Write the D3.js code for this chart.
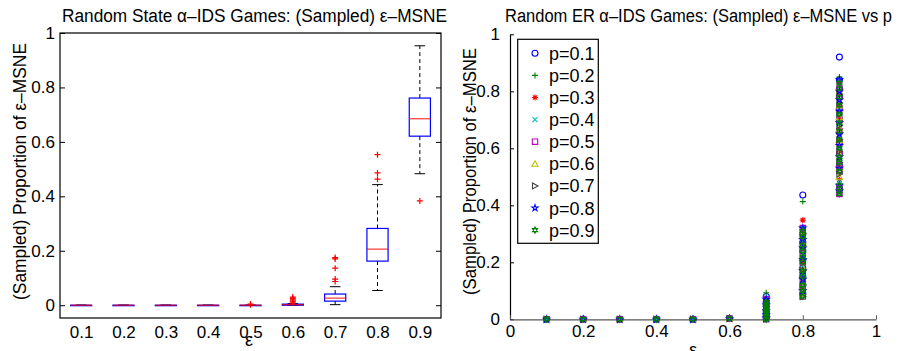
<!DOCTYPE html>
<html>
<head>
<meta charset="utf-8">
<script src="https://cdn.jsdelivr.net/npm/d3@7"></script>
<style>
  body { margin: 0; background: #fff; }
  svg { font-family: "Liberation Sans", Arial, sans-serif; }
</style>
</head>
<body>
<div id="chart"></div>
<script>
// ---- left panel: boxplot stats per epsilon ----
const epsLabels = ["0.1", "0.2", "0.3", "0.4", "0.5", "0.6", "0.7", "0.8", "0.9"];
const boxQ1     = [0, 0, 0, 0, 0, 0.000, 0.015, 0.162, 0.621];
const boxMedian = [0, 0, 0, 0, 0, 0.002, 0.026, 0.206, 0.685];
const boxQ3     = [0, 0, 0, 0, 0, 0.004, 0.041, 0.282, 0.761];
const whiskLo   = [0, 0, 0, 0, 0, 0.000, 0.002, 0.054, 0.483];
const whiskHi   = [0, 0, 0, 0, 0, 0.006, 0.068, 0.443, 0.953];
const outliers  = [
    [], [], [], [],
    [0.002, 0.004],
    [0.008, 0.012, 0.016, 0.020, 0.025, 0.030],
    [0.087, 0.096, 0.136, 0.170, 0.175],
    [0.463, 0.486, 0.553],
    [0.383]
];
const yTicksL = [0, 0.2, 0.4, 0.6, 0.8, 1];

// ---- right panel: sampled values per p ----
const pLabels = ["p=0.1", "p=0.2", "p=0.3", "p=0.4", "p=0.5", "p=0.6", "p=0.7", "p=0.8", "p=0.9"];
const pColors = ["#0000ff", "#008000", "#ff0000", "#00bfbf", "#bf00bf", "#bfbf00", "#404040", "#0000ff", "#008000"];
const pMarkers = ["o", "+", "*", "x", "s", "^", ">", "p", "h"];
const epsLow = [0.1, 0.2, 0.3, 0.4, 0.5, 0.6];
const lowVals = [0, 0, 0, 0, 0, 0.003];
const vals07 = [
    [0.080, 0.060, 0.045, 0.030, 0.020, 0.010, 0.004],
    [0.093, 0.065, 0.040, 0.025, 0.012, 0.003],
    [0.070, 0.050, 0.035, 0.020, 0.008],
    [0.075, 0.050, 0.030, 0.015, 0.005],
    [0.070, 0.055, 0.040, 0.025, 0.010, 0.000],
    [0.060, 0.040, 0.020, 0.005],
    [0.065, 0.045, 0.028, 0.012, 0.002],
    [0.070, 0.050, 0.030, 0.015, 0.004],
    [0.060, 0.050, 0.040, 0.030, 0.020, 0.010, 0.000]
];
const vals08 = [
    [0.436, 0.300, 0.270, 0.240, 0.210, 0.180, 0.150, 0.120, 0.090],
    [0.413, 0.310, 0.260, 0.220, 0.190, 0.160, 0.130, 0.100],
    [0.348, 0.300, 0.250, 0.200, 0.170, 0.140, 0.110],
    [0.320, 0.280, 0.230, 0.190, 0.150, 0.120, 0.090],
    [0.320, 0.290, 0.260, 0.230, 0.200, 0.170, 0.140, 0.110, 0.080],
    [0.310, 0.270, 0.220, 0.180, 0.130, 0.090],
    [0.300, 0.260, 0.210, 0.170, 0.120, 0.080],
    [0.320, 0.280, 0.250, 0.210, 0.170, 0.140, 0.100],
    [0.310, 0.290, 0.260, 0.240, 0.220, 0.200, 0.170, 0.150, 0.120, 0.100, 0.080]
];
const vals09 = [
    [0.920, 0.840, 0.810, 0.780, 0.740, 0.700, 0.660, 0.620, 0.580, 0.540, 0.520, 0.460],
    [0.850, 0.800, 0.760, 0.720, 0.690, 0.650, 0.600, 0.560, 0.530, 0.470],
    [0.830, 0.790, 0.750, 0.710, 0.670, 0.630, 0.590, 0.535, 0.490],
    [0.820, 0.770, 0.730, 0.680, 0.640, 0.600, 0.550, 0.486],
    [0.810, 0.780, 0.740, 0.700, 0.660, 0.620, 0.580, 0.540, 0.520, 0.460, 0.440],
    [0.800, 0.750, 0.710, 0.670, 0.630, 0.580, 0.530, 0.500],
    [0.790, 0.760, 0.720, 0.680, 0.630, 0.590, 0.550, 0.510],
    [0.840, 0.800, 0.770, 0.730, 0.690, 0.650, 0.610, 0.570, 0.530, 0.470, 0.450],
    [0.830, 0.810, 0.780, 0.750, 0.720, 0.690, 0.660, 0.630, 0.600, 0.570, 0.550, 0.520, 0.470, 0.450, 0.440]
];
const xTicksR = [0, 0.2, 0.4, 0.6, 0.8, 1];
const yTicksR = [0, 0.2, 0.4, 0.6, 0.8, 1];

const W = 899, H = 351;
const FS = 18, TFS = 17;
const svg = d3.select("#chart").append("svg")
    .attr("width", W)
    .attr("height", H);

// marker paths, MATLAB style
function markerPath(m)
{
    switch (m) {
        case "o": return d3.symbol(d3.symbolCircle).size(28)();
        case "+": return "M-3,0H3M0,-3V3";
        case "*": return "M-3,0H3M0,-3V3M-2.2,-2.2L2.2,2.2M-2.2,2.2L2.2,-2.2";
        case "x": return "M-2.5,-2.5L2.5,2.5M-2.5,2.5L2.5,-2.5";
        case "s": return "M-2.7,-2.7H2.7V2.7H-2.7Z";
        case "^": return "M0,-3L3,2.5H-3Z";
        case ">": return "M3,0L-2.5,-3V3Z";
        case "p": return d3.symbol(d3.symbolStar).size(12)();
        case "h": return "M0,-3L2.6,1.5H-2.6ZM0,3L2.6,-1.5H-2.6Z";
    }
}

// ================= LEFT PANEL =================
const L = {left: 60, right: 441, top: 33, bottom: 318};
const xL = d3.scaleLinear().domain([0.5, 9.5]).range([L.left, L.right]);
const yL = d3.scaleLinear().domain([-0.047, 1]).range([L.bottom, L.top]);
const bw = (xL(1) - xL(0)) * 0.5;

const gL = svg.append("g");

gL.append("rect")
    .attr("x", L.left).attr("y", L.top)
    .attr("width", L.right - L.left).attr("height", L.bottom - L.top)
    .attr("fill", "none").attr("stroke", "#000").attr("stroke-width", 1.2);

gL.append("g")
    .attr("transform", `translate(${L.left},0)`)
    .call(d3.axisLeft(yL).tickValues(yTicksL).tickSizeInner(-5).tickSizeOuter(0).tickPadding(5)
        .tickFormat(d3.format("~g")))
    .call(g => g.select(".domain").remove())
    .call(g => g.selectAll("text").attr("font-size", TFS).attr("fill", "#000"));

gL.append("g")
    .attr("transform", `translate(${L.right},0)`)
    .call(d3.axisRight(yL).tickValues(yTicksL).tickSizeInner(-5).tickSizeOuter(0).tickFormat(""))
    .call(g => g.select(".domain").remove());

gL.append("g")
    .attr("transform", `translate(0,${L.bottom})`)
    .call(d3.axisBottom(xL).tickValues(d3.range(1, 10)).tickSize(0).tickPadding(8)
        .tickFormat((d, i) => epsLabels[i]))
    .call(g => g.select(".domain").remove())
    .call(g => g.selectAll("text").attr("font-size", TFS).attr("fill", "#000"));

const boxes = gL.selectAll(".box")
    .data(epsLabels)
    .join("g")
    .attr("class", "box");

// whiskers (dashed)
boxes.append("line")
    .attr("x1", (d, i) => xL(i + 1)).attr("x2", (d, i) => xL(i + 1))
    .attr("y1", (d, i) => yL(boxQ3[i])).attr("y2", (d, i) => yL(whiskHi[i]))
    .attr("stroke", "#000").attr("stroke-dasharray", "4,3");
boxes.append("line")
    .attr("x1", (d, i) => xL(i + 1)).attr("x2", (d, i) => xL(i + 1))
    .attr("y1", (d, i) => yL(boxQ1[i])).attr("y2", (d, i) => yL(whiskLo[i]))
    .attr("stroke", "#000").attr("stroke-dasharray", "4,3");
// caps
boxes.append("line")
    .attr("x1", (d, i) => xL(i + 1) - bw / 4).attr("x2", (d, i) => xL(i + 1) + bw / 4)
    .attr("y1", (d, i) => yL(whiskHi[i])).attr("y2", (d, i) => yL(whiskHi[i]))
    .attr("stroke", "#000");
boxes.append("line")
    .attr("x1", (d, i) => xL(i + 1) - bw / 4).attr("x2", (d, i) => xL(i + 1) + bw / 4)
    .attr("y1", (d, i) => yL(whiskLo[i])).attr("y2", (d, i) => yL(whiskLo[i]))
    .attr("stroke", "#000");
// box
boxes.append("rect")
    .attr("x", (d, i) => xL(i + 1) - bw / 2)
    .attr("y", (d, i) => yL(boxQ3[i]))
    .attr("width", bw)
    .attr("height", (d, i) => Math.max(0.5, yL(boxQ1[i]) - yL(boxQ3[i])))
    .attr("fill", "none").attr("stroke", "#0000ff").attr("stroke-width", 1.2);
// median
boxes.append("line")
    .attr("x1", (d, i) => xL(i + 1) - bw / 2).attr("x2", (d, i) => xL(i + 1) + bw / 2)
    .attr("y1", (d, i) => yL(boxMedian[i])).attr("y2", (d, i) => yL(boxMedian[i]))
    .attr("stroke", "#ff0000").attr("stroke-width", 1.2).attr("opacity", 0.8);
// outliers
boxes.each(function(d, i) {
    d3.select(this).selectAll(".out")
        .data(outliers[i])
        .join("path")
        .attr("class", "out")
        .attr("transform", v => `translate(${xL(i + 1)},${yL(v)})`)
        .attr("d", markerPath("+"))
        .attr("stroke", "#ff0000").attr("fill", "none").attr("stroke-width", 1.2);
});

gL.append("text")
    .attr("x", 62).attr("y", 22)
    .attr("font-size", FS)
    .attr("textLength", 385).attr("lengthAdjust", "spacingAndGlyphs")
    .text("Random State α–IDS Games: (Sampled) ε–MSNE");

gL.append("text")
    .attr("x", 249).attr("y", 346)
    .attr("text-anchor", "middle").attr("font-size", FS)
    .text("ε");

gL.append("text")
    .attr("transform", `translate(26,300) rotate(-90)`)
    .attr("font-size", FS)
    .attr("textLength", 257).attr("lengthAdjust", "spacingAndGlyphs")
    .text("(Sampled) Proportion of ε–MSNE");

// ================= RIGHT PANEL =================
const R = {left: 510, right: 876, top: 34.3, bottom: 319.3};
const xR = d3.scaleLinear().domain([0, 1]).range([R.left, R.right]);
const yR = d3.scaleLinear().domain([0, 1]).range([R.bottom, R.top]);

const gR = svg.append("g");

gR.append("g")
    .attr("transform", `translate(${R.left},0)`)
    .call(d3.axisLeft(yR).tickValues(yTicksR).tickSizeInner(-4).tickSizeOuter(0).tickPadding(10)
        .tickFormat(d3.format("~g")))
    .call(g => g.select(".domain").attr("stroke", "#000").attr("stroke-width", 1.2))
    .call(g => g.selectAll("text").attr("font-size", TFS).attr("fill", "#000"));

gR.append("g")
    .attr("transform", `translate(0,${R.bottom})`)
    .call(d3.axisBottom(xR).tickValues(xTicksR).tickSizeInner(-4).tickSizeOuter(0).tickPadding(6)
        .tickFormat(d3.format("~g")))
    .call(g => g.select(".domain").attr("stroke", "#555").attr("stroke-width", 1.2))
    .call(g => g.selectAll("line").attr("stroke", "#555"))
    .call(g => g.selectAll("text").attr("font-size", TFS).attr("fill", "#000"));

pLabels.forEach((lab, k) => {
    const pts = [];
    epsLow.forEach((e, j) => pts.push([e, lowVals[j]]));
    vals07[k].forEach(v => pts.push([0.7, v]));
    vals08[k].forEach(v => pts.push([0.8, v]));
    vals09[k].forEach(v => pts.push([0.9, v]));
    gR.append("g").selectAll("path")
        .data(pts)
        .join("path")
        .attr("transform", d => `translate(${xR(d[0])},${yR(d[1])})`)
        .attr("d", markerPath(pMarkers[k]))
        .attr("fill", "none")
        .attr("stroke", pColors[k])
        .attr("stroke-width", 1.1);
});

// legend
const leg = gR.append("g");
leg.append("rect")
    .attr("x", 517.7).attr("y", 39.3)
    .attr("width", 80.6).attr("height", 204)
    .attr("fill", "#fff").attr("stroke", "#000").attr("stroke-width", 1.2);
pLabels.forEach((lab, k) => {
    const yy = 53.3 + k * 22.1;
    leg.append("path")
        .attr("transform", `translate(535,${yy})`)
        .attr("d", markerPath(pMarkers[k]))
        .attr("fill", "none").attr("stroke", pColors[k]).attr("stroke-width", 1.1);
    leg.append("text")
        .attr("x", 549).attr("y", yy + 6.5)
        .attr("font-size", FS)
        .text(lab);
});

gR.append("text")
    .attr("x", 505).attr("y", 22)
    .attr("font-size", FS)
    .attr("textLength", 387).attr("lengthAdjust", "spacingAndGlyphs")
    .text("Random ER α–IDS Games: (Sampled) ε–MSNE vs p");

gR.append("text")
    .attr("x", 693).attr("y", 356)
    .attr("text-anchor", "middle").attr("font-size", FS)
    .text("ε");

gR.append("text")
    .attr("transform", `translate(476,295) rotate(-90)`)
    .attr("font-size", FS)
    .attr("textLength", 247).attr("lengthAdjust", "spacingAndGlyphs")
    .text("(Sampled) Proportion of ε–MSNE");
</script>
</body>
</html>
